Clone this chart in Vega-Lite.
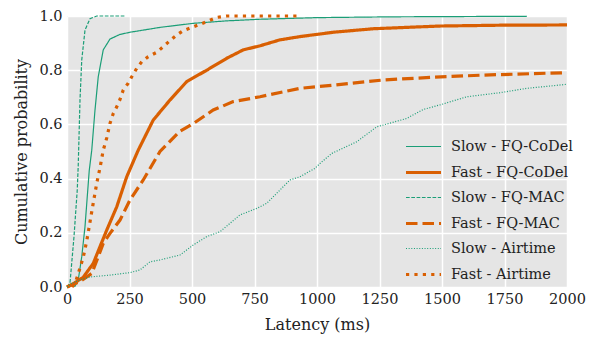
{
  "$schema": "https://vega.github.io/schema/vega-lite/v6.json",
  "width": 500,
  "height": 271,
  "autosize": "none",
  "padding": {"left": 67, "top": 16, "right": 27, "bottom": 54},
  "background": "white",
  "config": {
    "view": {"fill": "#e5e5e5", "stroke": null},
    "font": "DejaVu Serif",
    "axis": {
      "grid": true, "gridColor": "white", "gridWidth": 1.5,
      "domain": false, "ticks": false,
      "labelFont": "DejaVu Serif", "labelFontSize": 14.5, "labelColor": "#222",
      "titleFont": "DejaVu Serif", "titleFontSize": 16, "titleFontWeight": "normal", "titleColor": "#222"
    },
    "legend": {
      "labelFont": "DejaVu Serif", "labelFontSize": 14.5, "labelColor": "#222"
    }
  },
  "data": {"values": [
    {"s":"Slow - FQ-CoDel","x":30,"p":0},{"s":"Slow - FQ-CoDel","x":45,"p":0.026},{"s":"Slow - FQ-CoDel","x":59,"p":0.112},{"s":"Slow - FQ-CoDel","x":72,"p":0.223},{"s":"Slow - FQ-CoDel","x":81,"p":0.333},{"s":"Slow - FQ-CoDel","x":89,"p":0.43},{"s":"Slow - FQ-CoDel","x":99,"p":0.505},{"s":"Slow - FQ-CoDel","x":112,"p":0.653},{"s":"Slow - FQ-CoDel","x":125,"p":0.776},{"s":"Slow - FQ-CoDel","x":145,"p":0.875},{"s":"Slow - FQ-CoDel","x":172,"p":0.915},{"s":"Slow - FQ-CoDel","x":212,"p":0.932},{"s":"Slow - FQ-CoDel","x":252,"p":0.94},{"s":"Slow - FQ-CoDel","x":372,"p":0.958},{"s":"Slow - FQ-CoDel","x":505,"p":0.973},{"s":"Slow - FQ-CoDel","x":638,"p":0.982},{"s":"Slow - FQ-CoDel","x":772,"p":0.988},{"s":"Slow - FQ-CoDel","x":1000,"p":0.994},{"s":"Slow - FQ-CoDel","x":1300,"p":0.997},{"s":"Slow - FQ-CoDel","x":1840,"p":0.999},

    {"s":"Fast - FQ-CoDel","x":0,"p":0},{"s":"Fast - FQ-CoDel","x":25,"p":0.012},{"s":"Fast - FQ-CoDel","x":65,"p":0.036},{"s":"Fast - FQ-CoDel","x":105,"p":0.087},{"s":"Fast - FQ-CoDel","x":132,"p":0.149},{"s":"Fast - FQ-CoDel","x":159,"p":0.21},{"s":"Fast - FQ-CoDel","x":199,"p":0.296},{"s":"Fast - FQ-CoDel","x":239,"p":0.407},{"s":"Fast - FQ-CoDel","x":285,"p":0.505},{"s":"Fast - FQ-CoDel","x":345,"p":0.616},{"s":"Fast - FQ-CoDel","x":412,"p":0.69},{"s":"Fast - FQ-CoDel","x":479,"p":0.758},{"s":"Fast - FQ-CoDel","x":559,"p":0.8},{"s":"Fast - FQ-CoDel","x":639,"p":0.844},{"s":"Fast - FQ-CoDel","x":705,"p":0.875},{"s":"Fast - FQ-CoDel","x":772,"p":0.89},{"s":"Fast - FQ-CoDel","x":852,"p":0.912},{"s":"Fast - FQ-CoDel","x":932,"p":0.924},{"s":"Fast - FQ-CoDel","x":1065,"p":0.94},{"s":"Fast - FQ-CoDel","x":1225,"p":0.953},{"s":"Fast - FQ-CoDel","x":1492,"p":0.963},{"s":"Fast - FQ-CoDel","x":1732,"p":0.966},{"s":"Fast - FQ-CoDel","x":2000,"p":0.967},

    {"s":"Slow - FQ-MAC","x":0,"p":0},{"s":"Slow - FQ-MAC","x":12,"p":0.015},{"s":"Slow - FQ-MAC","x":28,"p":0.186},{"s":"Slow - FQ-MAC","x":41,"p":0.358},{"s":"Slow - FQ-MAC","x":45,"p":0.45},{"s":"Slow - FQ-MAC","x":52,"p":0.69},{"s":"Slow - FQ-MAC","x":59,"p":0.838},{"s":"Slow - FQ-MAC","x":72,"p":0.948},{"s":"Slow - FQ-MAC","x":92,"p":0.99},{"s":"Slow - FQ-MAC","x":119,"p":1.0},{"s":"Slow - FQ-MAC","x":232,"p":1.0},

    {"s":"Fast - FQ-MAC","x":0,"p":0},{"s":"Fast - FQ-MAC","x":19,"p":0.008},{"s":"Fast - FQ-MAC","x":52,"p":0.02},{"s":"Fast - FQ-MAC","x":99,"p":0.05},{"s":"Fast - FQ-MAC","x":125,"p":0.112},{"s":"Fast - FQ-MAC","x":145,"p":0.161},{"s":"Fast - FQ-MAC","x":172,"p":0.198},{"s":"Fast - FQ-MAC","x":212,"p":0.247},{"s":"Fast - FQ-MAC","x":252,"p":0.321},{"s":"Fast - FQ-MAC","x":305,"p":0.395},{"s":"Fast - FQ-MAC","x":372,"p":0.5},{"s":"Fast - FQ-MAC","x":452,"p":0.575},{"s":"Fast - FQ-MAC","x":505,"p":0.603},{"s":"Fast - FQ-MAC","x":585,"p":0.653},{"s":"Fast - FQ-MAC","x":665,"p":0.684},{"s":"Fast - FQ-MAC","x":772,"p":0.702},{"s":"Fast - FQ-MAC","x":865,"p":0.72},{"s":"Fast - FQ-MAC","x":932,"p":0.733},{"s":"Fast - FQ-MAC","x":1065,"p":0.745},{"s":"Fast - FQ-MAC","x":1265,"p":0.764},{"s":"Fast - FQ-MAC","x":1465,"p":0.774},{"s":"Fast - FQ-MAC","x":1665,"p":0.782},{"s":"Fast - FQ-MAC","x":2000,"p":0.791},

    {"s":"Slow - Airtime","x":0,"p":0},{"s":"Slow - Airtime","x":19,"p":0.013},{"s":"Slow - Airtime","x":52,"p":0.026},{"s":"Slow - Airtime","x":92,"p":0.037},{"s":"Slow - Airtime","x":172,"p":0.044},{"s":"Slow - Airtime","x":252,"p":0.053},{"s":"Slow - Airtime","x":292,"p":0.063},{"s":"Slow - Airtime","x":332,"p":0.093},{"s":"Slow - Airtime","x":372,"p":0.1},{"s":"Slow - Airtime","x":452,"p":0.118},{"s":"Slow - Airtime","x":505,"p":0.155},{"s":"Slow - Airtime","x":559,"p":0.186},{"s":"Slow - Airtime","x":612,"p":0.204},{"s":"Slow - Airtime","x":692,"p":0.266},{"s":"Slow - Airtime","x":759,"p":0.29},{"s":"Slow - Airtime","x":799,"p":0.309},{"s":"Slow - Airtime","x":852,"p":0.358},{"s":"Slow - Airtime","x":892,"p":0.395},{"s":"Slow - Airtime","x":932,"p":0.407},{"s":"Slow - Airtime","x":992,"p":0.438},{"s":"Slow - Airtime","x":1012,"p":0.456},{"s":"Slow - Airtime","x":1059,"p":0.493},{"s":"Slow - Airtime","x":1159,"p":0.536},{"s":"Slow - Airtime","x":1239,"p":0.591},{"s":"Slow - Airtime","x":1359,"p":0.622},{"s":"Slow - Airtime","x":1425,"p":0.655},{"s":"Slow - Airtime","x":1492,"p":0.672},{"s":"Slow - Airtime","x":1599,"p":0.702},{"s":"Slow - Airtime","x":1732,"p":0.717},{"s":"Slow - Airtime","x":1839,"p":0.733},{"s":"Slow - Airtime","x":2000,"p":0.748},

    {"s":"Fast - Airtime","x":20,"p":0},{"s":"Fast - Airtime","x":35,"p":0.02},{"s":"Fast - Airtime","x":52,"p":0.07},{"s":"Fast - Airtime","x":65,"p":0.11},{"s":"Fast - Airtime","x":79,"p":0.17},{"s":"Fast - Airtime","x":92,"p":0.24},{"s":"Fast - Airtime","x":105,"p":0.31},{"s":"Fast - Airtime","x":119,"p":0.383},{"s":"Fast - Airtime","x":132,"p":0.44},{"s":"Fast - Airtime","x":145,"p":0.505},{"s":"Fast - Airtime","x":159,"p":0.55},{"s":"Fast - Airtime","x":172,"p":0.604},{"s":"Fast - Airtime","x":185,"p":0.64},{"s":"Fast - Airtime","x":199,"p":0.665},{"s":"Fast - Airtime","x":212,"p":0.692},{"s":"Fast - Airtime","x":225,"p":0.727},{"s":"Fast - Airtime","x":245,"p":0.752},{"s":"Fast - Airtime","x":259,"p":0.776},{"s":"Fast - Airtime","x":279,"p":0.807},{"s":"Fast - Airtime","x":299,"p":0.831},{"s":"Fast - Airtime","x":325,"p":0.85},{"s":"Fast - Airtime","x":359,"p":0.866},{"s":"Fast - Airtime","x":385,"p":0.887},{"s":"Fast - Airtime","x":412,"p":0.909},{"s":"Fast - Airtime","x":439,"p":0.93},{"s":"Fast - Airtime","x":465,"p":0.946},{"s":"Fast - Airtime","x":505,"p":0.96},{"s":"Fast - Airtime","x":559,"p":0.979},{"s":"Fast - Airtime","x":599,"p":0.995},{"s":"Fast - Airtime","x":639,"p":1.0},{"s":"Fast - Airtime","x":920,"p":1.0}
  ]},
  "mark": {"type": "line", "clip": false, "strokeCap": "butt", "interpolate": "linear"},
  "encoding": {
    "x": {"field": "x", "type": "quantitative", "title": "Latency (ms)",
      "scale": {"domain": [0, 2000], "nice": false, "zero": true},
      "axis": {"values": [0, 250, 500, 750, 1000, 1250, 1500, 1750, 2000], "format": "d", "labelPadding": 5, "titlePadding": 11, "labelFlush": false}},
    "y": {"field": "p", "type": "quantitative", "title": "Cumulative probability",
      "scale": {"domain": [0, 1], "nice": false},
      "axis": {"values": [0, 0.2, 0.4, 0.6, 0.8, 1.0], "format": ".1f", "labelPadding": 5, "titlePadding": 9}},
    "color": {"field": "s", "type": "nominal", "title": null,
      "scale": {"domain": ["Slow - FQ-CoDel","Fast - FQ-CoDel","Slow - FQ-MAC","Fast - FQ-MAC","Slow - Airtime","Fast - Airtime"],
        "range": ["#1b9e77","#d95f02","#1b9e77","#d95f02","#1b9e77","#d95f02"]},
      "legend": {"orient": "none", "legendX": 337, "legendY": 112, "symbolType": "stroke", "symbolSize": 1225, "labelOffset": 8, "rowPadding": -1.5, "padding": 0}},
    "strokeDash": {"field": "s", "type": "nominal", "title": null,
      "scale": {"domain": ["Slow - FQ-CoDel","Fast - FQ-CoDel","Slow - FQ-MAC","Fast - FQ-MAC","Slow - Airtime","Fast - Airtime"],
        "range": [[1,0],[1,0],[3.7,1.6],[11.5,5],[1,1.65],[3.2,5.2]]}},
    "strokeWidth": {"field": "s", "type": "nominal", "title": null,
      "scale": {"type": "ordinal", "domain": ["Slow - FQ-CoDel","Fast - FQ-CoDel","Slow - FQ-MAC","Fast - FQ-MAC","Slow - Airtime","Fast - Airtime"],
        "range": [1.2,3.2,1.2,3.2,1.2,3.2]}}
  }
}
